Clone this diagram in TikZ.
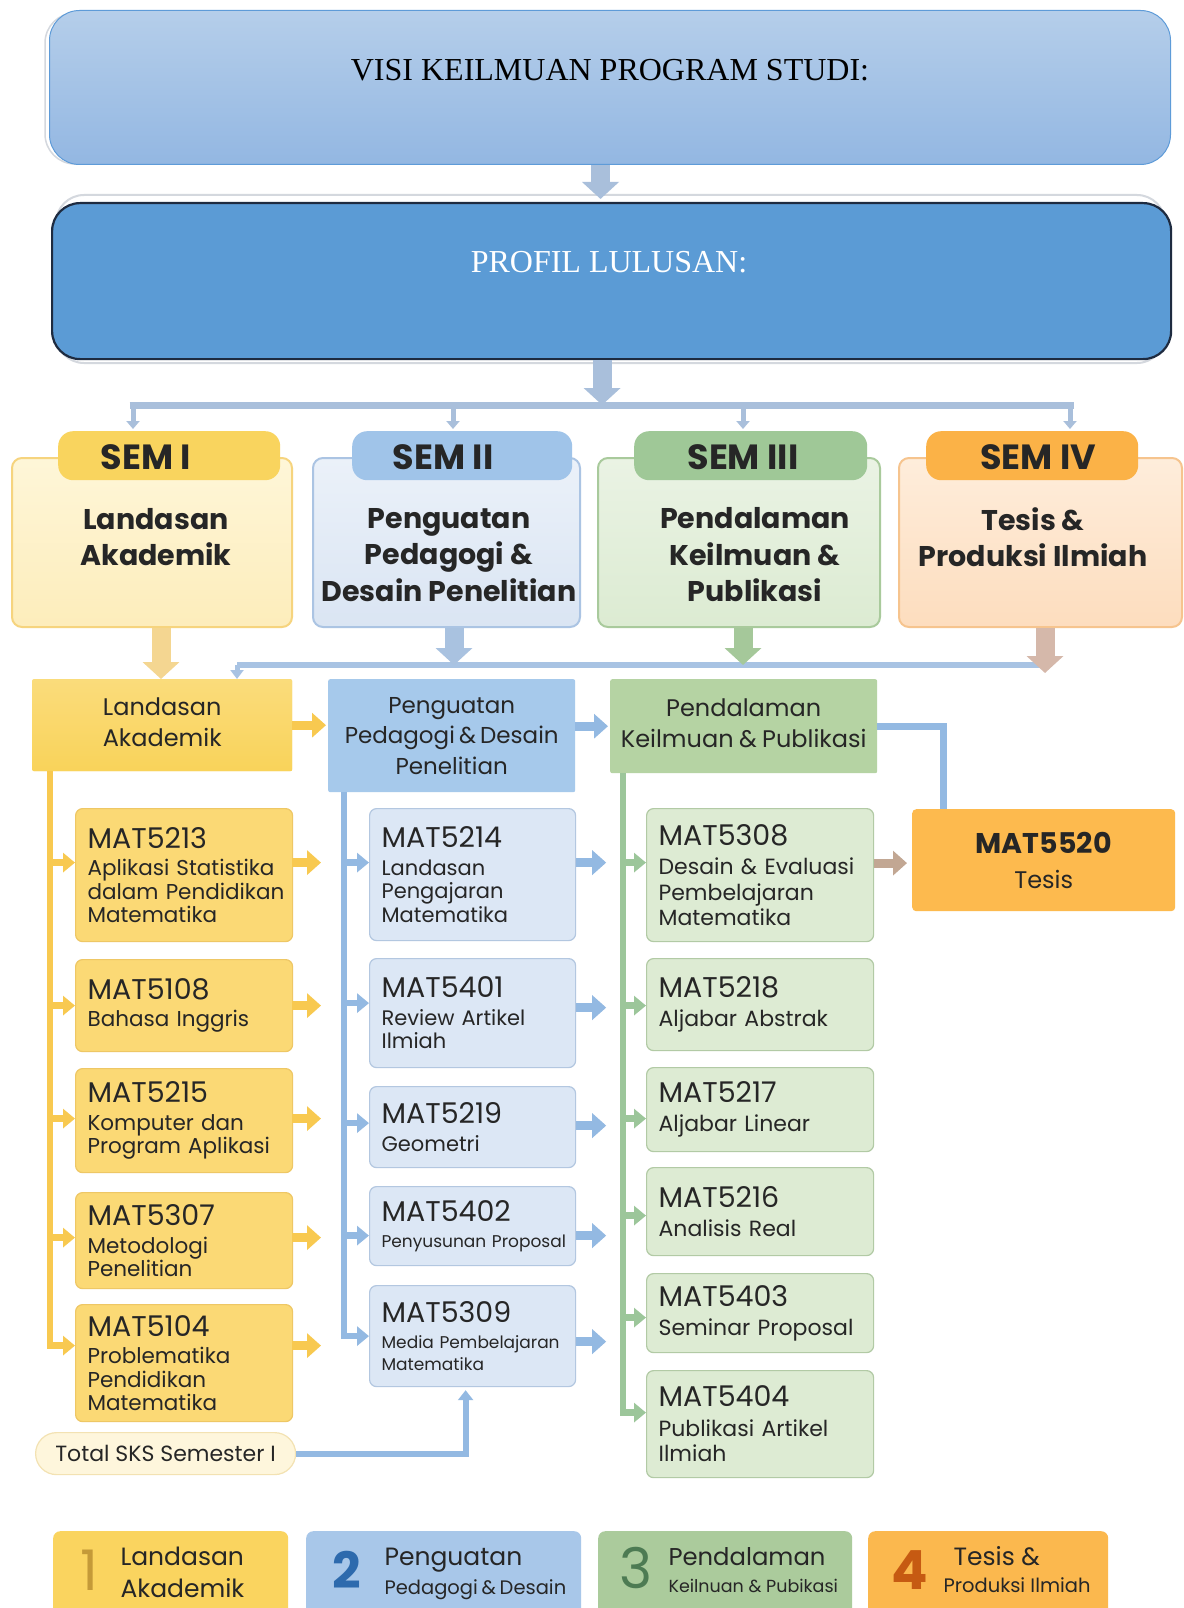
\documentclass[tikz,border=0pt]{standalone}
\usepackage{fontspec}
\setmainfont{Poppins}
\newfontfamily\timesf{Liberation Serif}
\usetikzlibrary{arrows.meta,calc}
\hyphenpenalty=10000
\exhyphenpenalty=10000

\definecolor{txt}{HTML}{262626}
\definecolor{visiT}{HTML}{B5CEEA}
\definecolor{visiB}{HTML}{93B7E2}
\definecolor{visiD}{HTML}{5E9BD8}
\definecolor{prof}{HTML}{5B9BD5}
\definecolor{profD}{HTML}{1E2B40}
\definecolor{conn}{HTML}{A9BFDB}
\definecolor{shad}{HTML}{D4D8DE}
\definecolor{yPill}{HTML}{F9D45E}
\definecolor{yPanT}{HTML}{FEF6D8}
\definecolor{yPanB}{HTML}{FDEDBB}
\definecolor{yPanD}{HTML}{F6D47E}
\definecolor{bPill}{HTML}{A0C4E9}
\definecolor{bPanT}{HTML}{EBF1F9}
\definecolor{bPanB}{HTML}{DAE5F3}
\definecolor{bPanD}{HTML}{ABC4E3}
\definecolor{gPill}{HTML}{9FC897}
\definecolor{gPanT}{HTML}{EAF3E4}
\definecolor{gPanB}{HTML}{DCEBD2}
\definecolor{gPanD}{HTML}{A9CA9C}
\definecolor{oPill}{HTML}{FBB247}
\definecolor{oPanT}{HTML}{FEEDDB}
\definecolor{oPanB}{HTML}{FDDDBE}
\definecolor{oPanD}{HTML}{F6C48E}
\definecolor{yHead}{HTML}{F9D35A}
\definecolor{bHead}{HTML}{A6C9EB}
\definecolor{gHead}{HTML}{B5D3A3}
\definecolor{yC}{HTML}{FBD975}
\definecolor{yCD}{HTML}{EEC765}
\definecolor{bC}{HTML}{DCE7F5}
\definecolor{bCD}{HTML}{B3C7E0}
\definecolor{gC}{HTML}{DDEBD3}
\definecolor{gCD}{HTML}{B2CAA5}
\definecolor{tes}{HTML}{FDBA4E}
\definecolor{yL}{HTML}{F8C950}
\definecolor{bL}{HTML}{93B9E2}
\definecolor{gL}{HTML}{9CC69A}
\definecolor{brL}{HTML}{C2A793}
\definecolor{bar}{HTML}{A8C3E3}
\definecolor{d1}{HTML}{F4D691}
\definecolor{d2}{HTML}{A9C2E0}
\definecolor{d3}{HTML}{A5C89A}
\definecolor{d4}{HTML}{D5B8AA}
\definecolor{sksF}{HTML}{FEF6DC}
\definecolor{sksD}{HTML}{F3E2B2}
\definecolor{lg1}{HTML}{FAD45F}
\definecolor{lg2}{HTML}{A8C7E9}
\definecolor{lg3}{HTML}{ABCB9C}
\definecolor{lg4}{HTML}{FBB84E}
\definecolor{n1}{HTML}{C49A38}
\definecolor{n2}{HTML}{2D6AAD}
\definecolor{n3}{HTML}{4D7B53}
\definecolor{n4}{HTML}{C65A12}

\newcommand\cc[1]{{\fontsize{28.5}{30}\selectfont #1}\\[4pt]}
\newcommand\ml[1]{\mbox{#1}}

\tikzset{
  every node/.style={text=txt},
  boxnw/.style={anchor=north west, inner sep=0pt},
  panel/.style n args={3}{boxnw, rounded corners=10pt, line width=2pt, top color=#1, bottom color=#2, draw=#3},
  pill/.style={boxnw, rounded corners=15pt, fill=#1},
  ptitle/.style={font=\bfseries\fontsize{35}{38}\selectfont},
  ptext/.style={font=\bfseries\fontsize{28.5}{36.5}\selectfont, align=center},
  head/.style={boxnw, rounded corners=2pt, fill=#1, align=center, font=\fontsize{24}{31}\selectfont},
  crs/.style 2 args={draw=#2, fill=#1, rounded corners=7pt, line width=1.2pt, anchor=north west, inner xsep=12pt, inner ysep=3pt, align=left, font=\fontsize{21.5}{23.5}\selectfont},
  ycrs/.style={crs={yC}{yCD}, text width=193pt},
  bcrs/.style={crs={bC}{bCD}, text width=182pt, font=\fontsize{21}{23.5}\selectfont},
  gcrs/.style={crs={gC}{gCD}, text width=203pt, font=\fontsize{22}{25.5}\selectfont},
  bigarr/.style={draw=#1, line width=19pt, -{Triangle[width=36pt,length=17pt]}},
  stub/.style={draw=conn, line width=5pt, -{Triangle[width=13pt,length=8pt]}},
  vl/.style={draw=#1, line width=6.5pt, -{Triangle[width=19pt,length=12pt]}},
  outa/.style={draw=#1, line width=9pt, -{Triangle[width=24pt,length=14pt]}},
  leg/.style={boxnw, rounded corners=7pt, fill=#1},
  lnum/.style={anchor=base, font=\fontsize{56}{56}\selectfont, text=#1},
  lbig/.style={anchor=base west, font=\fontsize{25}{30}\selectfont},
}

\begin{document}
\begin{tikzpicture}[x=1pt,y=-1pt]
\useasboundingbox (0,0) rectangle (1183,1608);
\fill[white] (0,0) rectangle (1183,1608);

% ---------- top boxes
\draw[shad, line width=1.5pt, rounded corners=30pt] (45,13) rectangle (1167,164);
\node[boxnw, minimum width=1121pt, minimum height=154pt, rounded corners=30pt,
      top color=visiT, bottom color=visiB, draw=visiD, line width=1pt] (visi) at (49,10) {};
\node[font=\timesf\fontsize{32}{36}\selectfont, text=black] (visit) at (610,70) {VISI KEILMUAN PROGRAM STUDI:};

\draw[shad, line width=2pt, rounded corners=28pt] (56,195) rectangle (1165,363);
\node[boxnw, minimum width=1119pt, minimum height=156pt, rounded corners=28pt,
      fill=prof, draw=profD, line width=2.2pt] (profil) at (51,202) {};
\node[font=\timesf\fontsize{32}{36}\selectfont, text=white] (profilt) at (609,262) {PROFIL LULUSAN:};

\draw[bigarr=conn, shorten >=3pt] ([xshift=-9.5pt]visi.south) -- ([xshift=-9.5pt]visi.south |- profil.north);

% distribution bar
\coordinate (j1) at (133,405);
\coordinate (j2) at (453,405);
\coordinate (j3) at (743,405);
\coordinate (j4) at (1070,405);
\draw[bigarr=conn] ([xshift=-9.5pt]profil.south) -- ([xshift=-9.5pt]profil.south |- j1);
\draw[draw=conn, line width=7pt] ([xshift=-3.5pt]j1) -- ([xshift=3.5pt]j4);

% ---------- semester panels
\node[panel={yPanT}{yPanB}{yPanD}, minimum width=280pt, minimum height=169pt] (pan1) at (11,457) {};
\node[panel={bPanT}{bPanB}{bPanD}, minimum width=267pt, minimum height=169pt] (pan2) at (312,457) {};
\node[panel={gPanT}{gPanB}{gPanD}, minimum width=282pt, minimum height=169pt] (pan3) at (597,457) {};
\node[panel={oPanT}{oPanB}{oPanD}, minimum width=283pt, minimum height=169pt] (pan4) at (898,457) {};

\node[pill=yPill, minimum width=222pt, minimum height=49pt] (pill1) at (58,431) {};
\node[pill=bPill, minimum width=220pt, minimum height=49pt] (pill2) at (352,431) {};
\node[pill=gPill, minimum width=233pt, minimum height=49pt] (pill3) at (634,431) {};
\node[pill=oPill, minimum width=212pt, minimum height=49pt] (pill4) at (926,431) {};

\draw[stub, shorten >=2pt] (j1) -- (j1 |- pill1.north);
\draw[stub, shorten >=2pt] (j2) -- (j2 |- pill2.north);
\draw[stub, shorten >=2pt] (j3) -- (j3 |- pill3.north);
\draw[stub, shorten >=2pt] (j4) -- (j4 |- pill4.north);

\node[ptitle] (st1) at (146,457) {SEM I};
\node[ptitle] (st2) at (443,457) {SEM II};
\node[ptitle] (st3) at (743,457) {SEM III};
\node[ptitle] (st4) at (1038,457) {SEM IV};

\node[ptext] (sx1) at (156,537) {Landasan\\Akademik};
\node[ptext] (sx2) at (449,555) {Penguatan\\Pedagogi \&\\Desain Penelitian};
\node[ptext] (sx3) at (755,555) {Pendalaman\\Keilmuan \&\\Publikasi};
\node[ptext] (sx4) at (1033,537) {Tesis \&\\Produksi Ilmiah};

% ---------- second-level headers
\node[head=yHead, minimum width=260pt, minimum height=92pt, top color=yHead!80!white, bottom color=yHead] (h1) at (32,679) {Landasan\\Akademik\rule[-6pt]{0pt}{1pt}};
\node[head=bHead, minimum width=247pt, minimum height=113pt, inner sep=0pt, font=\fontsize{23}{30.5}\selectfont] (h2) at (328,679) {Penguatan\\Pedagogi \kern-2pt\&\kern-2pt{} Desain\\Penelitian};
\node[head=gHead, minimum width=267pt, minimum height=94pt] (h3) at (610,679) {Pendalaman\\Keilmuan \kern-1pt\&\kern-1pt{} Publikasi\rule[-6pt]{0pt}{1pt}};

\coordinate (b2L) at (237,665);
\coordinate (b2R) at (1045,665);
\draw[draw=bar, line width=6pt] (b2L) -- (b2R);
\draw[draw=bar, line width=5pt, -{Triangle[width=13pt,length=9pt]}] (b2L) -- (b2L |- h1.north);

\draw[bigarr=d1] ([xshift=9pt]pan1.south) -- ([xshift=9pt]pan1.south |- h1.north);
\draw[bigarr=d2] ([xshift=7.5pt]pan2.south) -- ([xshift=7.5pt]pan2.south |- b2L);
\draw[bigarr=d3] ([xshift=4pt]pan3.south) -- ([xshift=4pt]pan3.south |- b2L);
\draw[bigarr=d4] ([xshift=4.5pt]pan4.south) -- ([xshift=4.5pt]pan4.south |- 0,673);

\draw[outa=yL, shorten >=2pt] (h1.east) -- (h1.east -| h2.west);
\draw[outa=bL, shorten >=2pt] ([yshift=9.5pt]h2.east) -- ([yshift=9.5pt]h2.east -| h3.west);

% ---------- column 1 (yellow)
\node[ycrs, minimum height=133pt] (c1a) at (75,808) {\cc{MAT5213}\ml{Aplikasi Statistika}\\\ml{dalam Pendidikan}\\Matematika};
\node[ycrs, minimum height=92pt] (c1b) at (75,959) {\cc{MAT5108}\ml{Bahasa Inggris}};
\node[ycrs, minimum height=104pt] (c1c) at (75,1068) {\cc{MAT5215}\ml{Komputer dan}\\\ml{Program Aplikasi}};
\node[ycrs, minimum height=96pt] (c1d) at (75,1192) {\cc{MAT5307}Metodologi\\Penelitian};
\node[ycrs, minimum height=117pt] (c1e) at (75,1304) {\cc{MAT5104}Problematika\\Pendidikan\\Matematika};

% ---------- column 2 (blue)
\node[bcrs, minimum height=132pt] (c2a) at (369,808) {\cc{MAT5214}Landasan\\Pengajaran\\Matematika};
\node[bcrs, minimum height=109pt] (c2b) at (369,958) {\cc{MAT5401}\ml{Review Artikel}\\Ilmiah};
\node[bcrs, minimum height=81pt] (c2c) at (369,1086) {\cc{MAT5219}Geometri};
\node[bcrs, minimum height=79pt, font=\fontsize{17}{22}\selectfont] (c2d) at (369,1186) {\cc{MAT5402}\ml{Penyusunan Proposal}};
\node[bcrs, minimum height=101pt, font=\fontsize{17}{22}\selectfont] (c2e) at (369,1285) {\cc{MAT5309}\ml{Media Pembelajaran}\\Matematika};

% ---------- column 3 (green)
\node[gcrs, minimum height=133pt] (c3a) at (646,808) {\cc{MAT5308}\ml{Desain \& Evaluasi}\\Pembelajaran\\Matematika};
\node[gcrs, minimum height=92pt] (c3b) at (646,958) {\cc{MAT5218}\ml{Aljabar Abstrak}};
\node[gcrs, minimum height=84pt] (c3c) at (646,1067) {\cc{MAT5217}\ml{Aljabar Linear}};
\node[gcrs, minimum height=88pt] (c3d) at (646,1167) {\cc{MAT5216}\ml{Analisis Real}};
\node[gcrs, minimum height=79pt] (c3e) at (646,1273) {\cc{MAT5403}\ml{Seminar Proposal}};
\node[gcrs, minimum height=107pt] (c3f) at (646,1370) {\cc{MAT5404}\ml{Publikasi Artikel}\\Ilmiah};

% ---------- tesis
\node[boxnw, rounded corners=4pt, fill=tes, minimum width=263pt, minimum height=102pt, align=center,
      font=\fontsize{24}{35}\selectfont] (tes) at (912,809) {{\bfseries\fontsize{28.5}{34}\selectfont MAT5520}\\Tesis};
\draw[draw=bL, line width=7pt] (h3.east) -| ([xshift=-100pt]tes.north);
\draw[outa=brL, shorten >=5pt] ([yshift=12pt]c3a.east) -- ([yshift=12pt]c3a.east -| tes.west);

% ---------- vertical spines and branches
\coordinate (yx) at ([xshift=18pt]h1.south west);
\coordinate (bx) at ([xshift=16pt]h2.south west);
\coordinate (gx) at ([xshift=13pt]h3.south west);

\coordinate (ya1) at ([yshift=12.5pt]c1a.west);
\coordinate (ya2) at (c1b.west);
\coordinate (ya3) at ([yshift=2pt]c1c.west);
\coordinate (ya4) at ([yshift=3pt]c1d.west);
\coordinate (ya5) at ([yshift=17.5pt]c1e.west);
\draw[vl=yL] (yx) -- (yx |- ya5) -- (ya5);
\foreach \p in {ya1,ya2,ya3,ya4} \draw[vl=yL] (yx |- \p) -- (\p);
\foreach \p in {ya1,ya2,ya3,ya4,ya5} \draw[outa=yL] ([xshift=217pt]\p) -- ++(29,0);

\coordinate (ba1) at ([yshift=12pt]c2a.west);
\coordinate (ba2) at ([yshift=10pt]c2b.west);
\coordinate (ba3) at ([yshift=4pt]c2c.west);
\coordinate (ba4) at ([yshift=-9.5pt]c2d.west);
\coordinate (ba5) at (c2e.west);
\draw[vl=bL] (bx) -- (bx |- ba5) -- (ba5);
\foreach \p in {ba1,ba2,ba3,ba4} \draw[vl=bL] (bx |- \p) -- (\p);
\draw[outa=bL] ([yshift=12pt]c2a.east) -- ++(30,0);
\draw[outa=bL] ([yshift=5.5pt]c2b.east) -- ++(30,0);
\draw[outa=bL] ([yshift=1.5pt]c2c.east) -- ++(30,0);
\draw[outa=bL] ([yshift=-9.5pt]c2d.east) -- ++(30,0);
\draw[outa=bL] ([yshift=-5.5pt]c2e.east) -- ++(30,0);

\coordinate (ga1) at ([yshift=12.5pt]c3a.west);
\coordinate (ga2) at ([yshift=-1pt]c3b.west);
\coordinate (ga3) at ([yshift=-9pt]c3c.west);
\coordinate (ga4) at ([yshift=-4pt]c3d.west);
\coordinate (ga5) at ([yshift=-4.5pt]c3e.west);
\coordinate (ga6) at ([yshift=11.5pt]c3f.west);
\draw[vl=gL] (gx) -- (gx |- ga6) -- (ga6);
\foreach \p in {ga1,ga2,ga3,ga4,ga5} \draw[vl=gL] (gx |- \p) -- (\p);

% ---------- total SKS
\node[boxnw, fill=sksF, draw=sksD, line width=1.2pt, rounded corners=21pt, minimum width=260pt, minimum height=42pt,
      font=\fontsize{22}{26}\selectfont] (sks) at (35,1432) {Total SKS Semester I};
\draw[draw=bL, line width=6pt, -{Triangle[width=15pt,length=10pt]}, shorten >=3pt] (sks.east) -| ([xshift=-7pt]c2e.south);

% ---------- legend
\node[leg=lg1, minimum width=235pt, minimum height=95pt] (lg1) at (53,1531) {};
\node[leg=lg2, minimum width=275pt, minimum height=95pt] (lg2) at (306,1531) {};
\node[leg=lg3, minimum width=254pt, minimum height=95pt] (lg3) at (598,1531) {};
\node[leg=lg4, minimum width=240pt, minimum height=95pt] (lg4) at (868,1531) {};

\node[lnum=n1] (ln1) at (89,1590) {1};
\node[lnum=n2, font=\bfseries\fontsize{50}{50}\selectfont] (ln2) at (347,1588) {2};
\node[lnum=n3] (ln3) at (636,1588) {3};
\node[lnum=n4, font=\bfseries\fontsize{54}{54}\selectfont] (ln4) at (910,1589) {4};

\node[lbig] (l1a) at (117,1565) {Landasan};
\node[lbig] (l1b) at (117,1597) {Akademik};
\node[lbig] (l2a) at (381,1565) {Penguatan};
\node[anchor=base west, font=\fontsize{19.5}{24}\selectfont] (l2b) at (381,1594) {Pedagogi \kern-1.5pt\&\kern-1.5pt{} Desain};
\node[lbig, font=\fontsize{24.3}{30}\selectfont] (l3a) at (665,1565) {Pendalaman};
\node[anchor=base west, font=\fontsize{17.5}{21}\selectfont] (l3b) at (665,1592) {Keilnuan \& Pubikasi};
\node[lbig] (l4a) at (950,1565) {Tesis \&};
\node[anchor=base west, font=\fontsize{19.5}{23}\selectfont] (l4b) at (940,1592) {Produksi Ilmiah};
\end{tikzpicture}
\end{document}
